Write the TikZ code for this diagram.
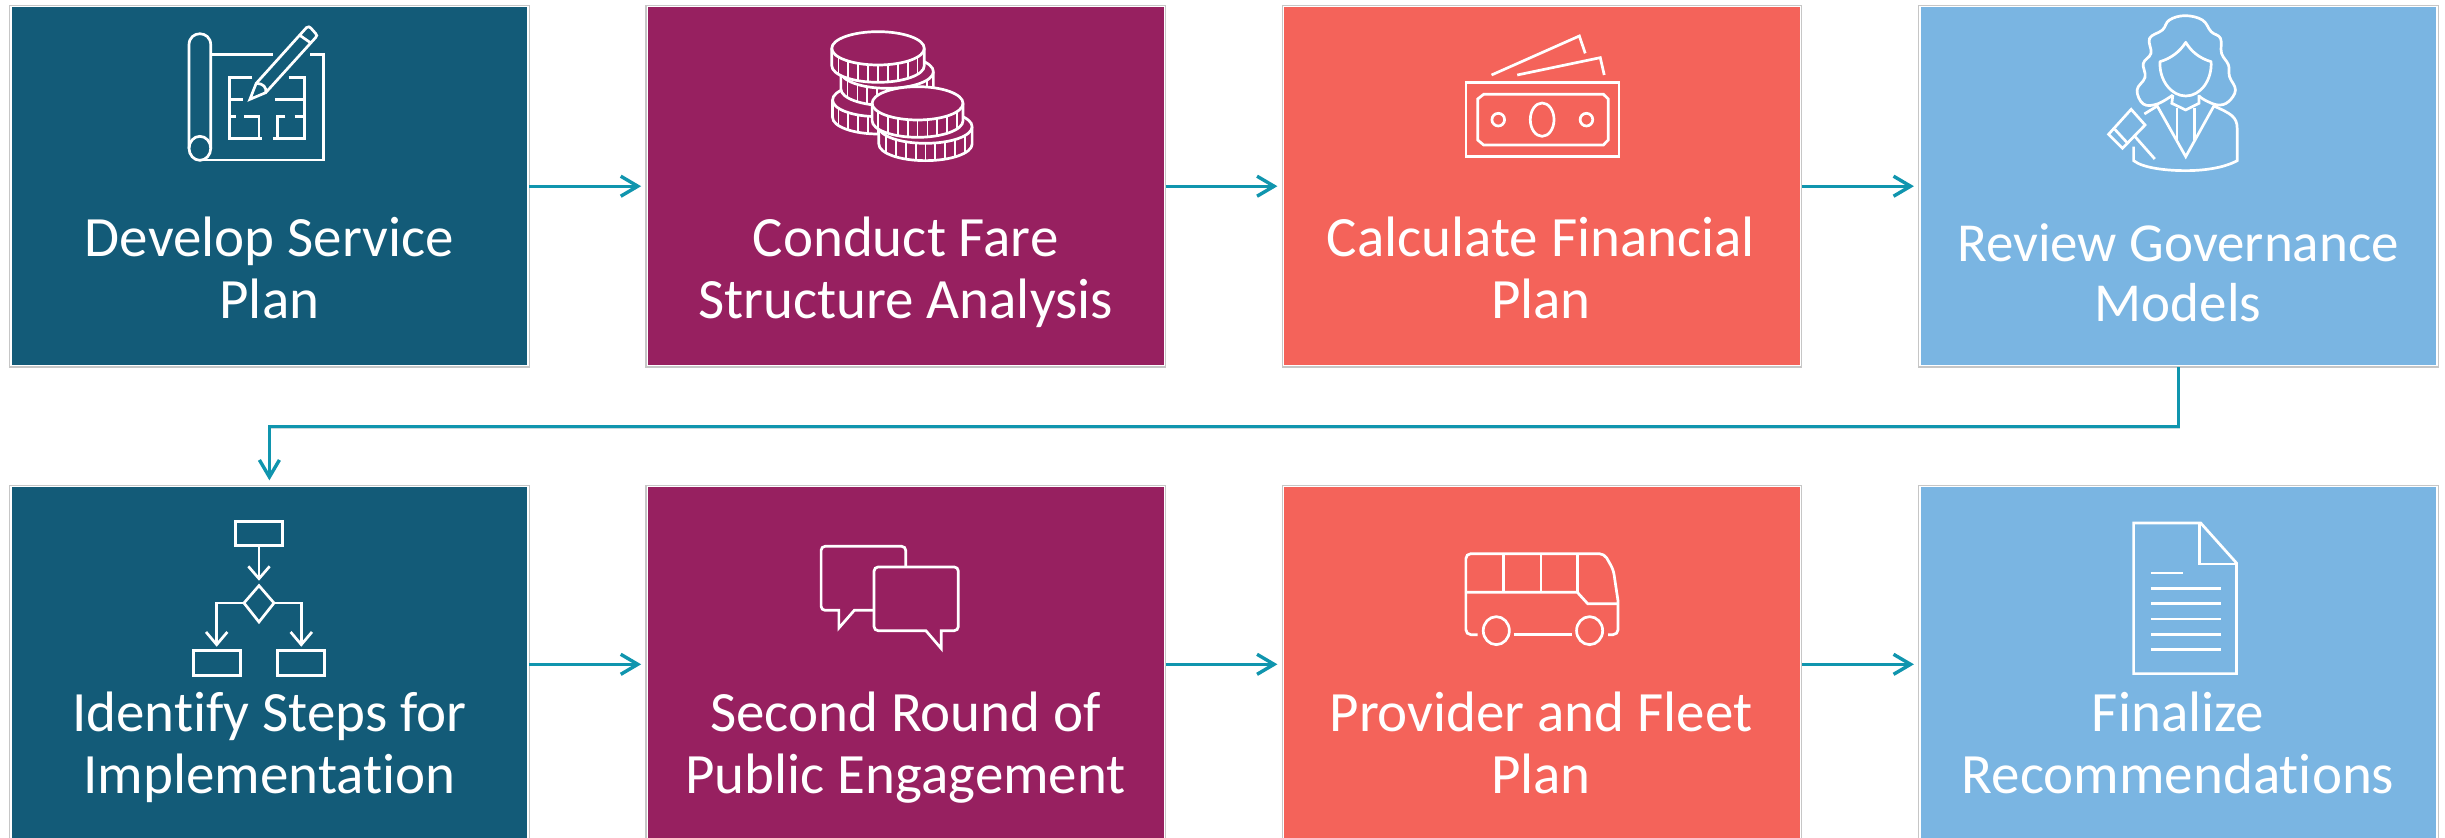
\documentclass[tikz,border=0pt]{standalone}
\usepackage{fontspec}
\setmainfont[Ligatures=NoCommon]{Carlito}
\usetikzlibrary{arrows.meta}
\definecolor{navybox}{HTML}{135B78}
\definecolor{plumbox}{HTML}{972060}
\definecolor{coralbox}{HTML}{F4635A}
\definecolor{skybox}{HTML}{7AB5E2}
\definecolor{edgegray}{HTML}{C6C6C6}
\definecolor{teal1}{HTML}{1095AE}
\definecolor{flowshade}{HTML}{C9D9DE}
\tikzset{
  stepbox/.style={rectangle,inner sep=0pt,outer sep=0pt,minimum width=517pt,fill=#1,draw=white,line width=1.2pt,
    preaction={draw=edgegray,line width=3.6pt}},
  rowa/.style={minimum height=359pt},
  rowb/.style={minimum height=355pt},
  lbl/.style={text=white,anchor=base,align=center,inner sep=0pt,font=\fontsize{57}{62}\selectfont},
  flow/.style={draw=teal1,line width=3.4pt,-{Straight Barb[length=17pt,width=20pt]},shorten >=6pt,shorten <=1.5pt,
    preaction={draw=flowshade,transform canvas={xshift=0.7pt,yshift=-1.2pt}}},
  ico/.style={draw=white,line width=2.7pt,line join=miter},
  zooma/.style={x=0.3954pt,y=-0.3333pt},
  zoomb/.style={x=0.3476pt,y=-0.3333pt}
}
\newcommand\coinshape[3]{%
  \filldraw[ico,fill=plumbox] (#1-#3,#2) -- (#1-#3,#2+52) arc[start angle=180,end angle=0,x radius=#3,y radius=50] -- (#1+#3,#2) arc[start angle=0,end angle=-180,x radius=#3,y radius=50] -- cycle;
  \draw[ico] (#1-#3,#2) arc[start angle=180,end angle=0,x radius=#3,y radius=50];
  \foreach \d in {-100,-75,...,100}{
    \draw[ico,line width=1.8pt] ({#1+\d},{#2+50*sqrt(1-(\d/#3)^2)}) -- ({#1+\d},{#2+52+50*sqrt(1-(\d/#3)^2)});
  }
}
\begin{document}
\begin{tikzpicture}[x=1pt,y=-1pt]
\useasboundingbox (0,0) rectangle (2445,838);
\fill[white] (0,0) rectangle (2445,838);
\clip (0,0) rectangle (2445,838);
% connectors are drawn after the boxes that name them
\node[stepbox=navybox,rowa] (a1) at (269.4,186.2) {};
\node[stepbox=plumbox,rowa] (a2) at (905.6,186.2) {};
\node[stepbox=coralbox,rowa] (a3) at (1541.9,186.2) {};
\node[stepbox=skybox,rowa] (a4) at (2178.4,186.2) {};
\node[stepbox=navybox,rowb] (b1) at (269.4,664.3) {};
\node[stepbox=plumbox,rowb] (b2) at (905.6,664.3) {};
\node[stepbox=coralbox,rowb] (b3) at (1541.9,664.3) {};
\node[stepbox=skybox,rowb] (b4) at (2178.4,664.3) {};
% connectors
\draw[flow] (a1.east) -- (a2.west);
\draw[flow] (a2.east) -- (a3.west);
\draw[flow] (a3.east) -- (a4.west);
\coordinate (elbowy) at (0,426.7);
\draw[flow,shorten >=6.5pt] (a4.south) |- (elbowy -| b1.north) -- (b1.north);
\draw[flow] (b1.east) -- (b2.west);
\draw[flow] (b2.east) -- (b3.west);
\draw[flow] (b3.east) -- (b4.west);
% labels
\node[lbl] (ta1) at (269.4,318) {Develop Service\\Plan};
\node[lbl] (ta2) at (905.6,318) {Conduct Fare\\Structure Analysis};
\node[lbl] (ta3) at (1541,318) {Calculate Financial\\Plan};
\node[lbl,font=\fontsize{55}{60}\selectfont] (ta4) at (2178,321) {Review Governance\\Models};
\node[lbl] (tb1) at (269.4,793) {Identify Steps for\\Implementation};
\node[lbl] (tb2) at (905.6,793) {Second Round of\\Public Engagement};
\node[lbl] (tb3) at (1541,793) {Provider and Fleet\\Plan};
\node[lbl] (tb4) at (2178,793) {Finalize\\Recommendations};
% icon 1: blueprint
\begin{scope}[shift={(0,0)},zooma]
\draw[ico] (478,445) -- (478,135) .. controls (478,90) and (533,90) .. (533,135) -- (533,445);
\draw[ico] (505.5,445) ellipse [x radius=27.5,y radius=36];
\draw[ico] (533,163) -- (690,163);
\draw[ico] (785,163) -- (818,163) -- (818,480) -- (505,480);
\draw[ico] (632,298) -- (648,250) -- (775,83) .. controls (780,79) and (783,80) .. (786,84) -- (798,100) .. controls (802,105) and (802,108) .. (798,113) -- (672,278) -- cycle;
\draw[ico] (757,105) -- (785,128);
\draw[ico] (648,250) .. controls (665,250) and (675,262) .. (672,278);
\draw[ico] (638,232) -- (580,232) -- (580,416) -- (662,416);
\draw[ico] (580,298) -- (615,298);
\draw[ico] (580,350) -- (598,350);
\draw[ico] (618,350) -- (655,350) -- (655,416);
\draw[ico] (730,232) -- (770,232) -- (770,416) -- (690,416);
\draw[ico] (695,298) -- (770,298);
\draw[ico] (722,350) -- (702,350) -- (702,416);
\draw[ico] (745,350) -- (770,350);
\end{scope}
% icon 2: coins
\begin{scope}[shift={(640,0)},zooma]
\coinshape{602}{300}{115}
\coinshape{625}{215}{117}
\coinshape{602}{145}{117}
\coinshape{722}{380}{118}
\coinshape{702}{310}{115}
\end{scope}
% icon 3: banknotes
\begin{scope}[shift={(1280,0)},zooma]
\draw[ico] (470,248) rectangle (857,470);
\draw[ico] (515,283) -- (818,283) -- (830,297) -- (830,420) -- (818,435) -- (515,435) -- (500,420) -- (500,297) -- cycle;
\draw[ico] (552,359) ellipse [x radius=16,y radius=19];
\draw[ico] (663,359) ellipse [x radius=30,y radius=50];
\draw[ico] (775,359) ellipse [x radius=16,y radius=19];
\draw[ico] (535,225) -- (757,108) -- (772,160);
\draw[ico] (600,225) -- (810,173) -- (820,225);
\end{scope}
% icon 4: judge
\begin{scope}[shift={(1900,0)},zoomb]
\draw[ico,line join=round] plot[smooth,tension=0.65] coordinates {(860,288) (880,302) (915,315) (945,305) (965,270) (948,230) (945,195) (925,160) (922,115) (895,95) (870,60) (820,47) (775,60) (755,90) (718,115) (722,160) (700,190) (705,232) (682,270) (700,312) (740,312) (785,285)};
\draw[ico,line join=round] (822,127) .. controls (805,155) and (780,175) .. (748,185) .. controls (745,240) and (780,288) .. (822,288) .. controls (865,288) and (898,240) .. (895,185) .. controls (862,175) and (838,155) .. (822,127) -- cycle;
\draw[ico] (785,285) -- (782,310) -- (822,330) -- (860,310) -- (860,285);
\draw[ico] (703,342) -- (740,318) -- (822,470) -- (903,318) .. controls (950,340) and (970,350) .. (970,385) -- (970,482) .. controls (930,505) and (870,512) .. (822,512) .. controls (770,512) and (700,505) .. (672,482) -- (672,440);
\draw[ico] (797,325) -- (797,420);
\draw[ico] (848,325) -- (848,420);
\draw[ico] (665,328) -- (705,375) -- (640,445) -- (600,403) -- cycle;
\draw[ico] (618,388) -- (655,430);
\draw[ico] (672,405) -- (733,477);
\end{scope}
% icon 5: flowchart
\begin{scope}[shift={(0,438)},zooma]
\draw[ico] (595,250) rectangle (715,322);
\draw[ico] (655,322) -- (655,420);
\draw[ico] (628,385) -- (655,422) -- (682,385);
\draw[ico] (655,443) -- (693,495) -- (655,552) -- (617,495) -- cycle;
\draw[ico] (617,495) -- (548,495) -- (548,618);
\draw[ico] (521,582) -- (548,620) -- (575,582);
\draw[ico] (693,495) -- (762,495) -- (762,618);
\draw[ico] (735,582) -- (762,620) -- (789,582);
\draw[ico] (489,638) rectangle (608,713);
\draw[ico] (702,638) rectangle (821,713);
\end{scope}
% icon 6: speech bubbles
\begin{scope}[shift={(640,438)},zooma]
\draw[ico] (672,385) [rounded corners=4pt] -- (672,325) -- (458,325) -- (458,517) [sharp corners] -- (503,517) -- (503,570) -- (542,517) -- (590,517);
\draw[ico,rounded corners=4pt] (700,387) -- (805,387) -- (805,578) [sharp corners] -- (762,578) -- (762,632) -- (723,578) [rounded corners=4pt] -- (592,578) -- (592,387) -- (700,387);
\end{scope}
% icon 7: bus
\begin{scope}[shift={(1280,438)},zooma]
\draw[ico,rounded corners=5pt] (500,590) -- (470,590) -- (470,347) -- (820,347) -- (843,395) [sharp corners] -- (855,490) [rounded corners=5pt] -- (855,590) -- (830,590);
\draw[ico] (547,578) ellipse [x radius=33,y radius=42];
\draw[ico] (783,578) ellipse [x radius=33,y radius=42];
\draw[ico] (592,590) -- (738,590);
\draw[ico] (470,463) -- (752,463) -- (778,497) -- (855,497);
\draw[ico] (565,347) -- (565,463);
\draw[ico] (660,347) -- (660,463);
\draw[ico] (752,347) -- (752,463);
\end{scope}
% icon 8: document
\begin{scope}[shift={(1900,438)},zoomb]
\draw[ico] (865,255) -- (672,255) -- (672,707) -- (968,707) -- (968,375) -- cycle;
\draw[ico] (862,255) -- (862,378) -- (968,378);
\draw[ico] (722,405) -- (815,405);
\draw[ico] (722,451) -- (922,451);
\draw[ico] (722,497) -- (922,497);
\draw[ico] (722,543) -- (922,543);
\draw[ico] (722,589) -- (922,589);
\draw[ico] (722,635) -- (922,635);
\end{scope}
\end{tikzpicture}
\end{document}
